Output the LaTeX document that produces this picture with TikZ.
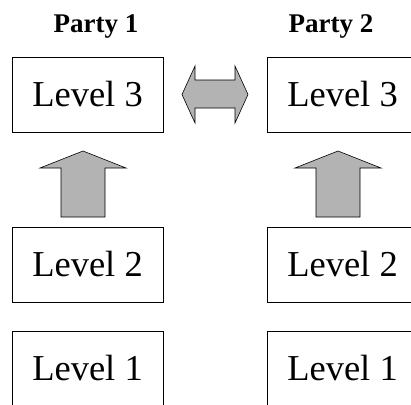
\documentclass[tikz,border=0pt]{standalone}
\usepackage{fontspec}
\setmainfont{Liberation Serif}
\definecolor{arrowgray}{RGB}{179,179,179}
\tikzset{
  level/.style={draw,line width=0.8pt,minimum width=151pt,minimum height=75pt,inner sep=0pt,font=\fontsize{36.5}{40}\selectfont},
  party/.style={anchor=base,font=\fontsize{27}{30}\selectfont\bfseries},
  fatarrow/.style={draw,line width=0.6pt,fill=arrowgray,line join=miter}
}
\begin{document}
\begin{tikzpicture}[x=1pt,y=-1pt]
\useasboundingbox (0,0) rectangle (411,404);
% party headings
\node[party] (p1) at (96,33) {Party 1};
\node[party] (p2) at (331,33) {Party 2};
% level boxes
\node[level] (a3) at (87.5,94.5) {Level 3};
\node[level] (a2) at (87.5,264.5) {Level 2};
\node[level] (a1) at (87.5,368.5) {Level 1};
\node[level] (b3) at (342.5,94.5) {Level 3};
\node[level] (b2) at (342.5,264.5) {Level 2};
\node[level] (b1) at (342.5,368.5) {Level 1};
% level 3 to level 3
\draw[fatarrow] (182,94.5) -- (195,66) -- (195,80) -- (235,80) -- (235,66) -- (248,94.5)
  -- (235,123) -- (235,108) -- (195,108) -- (195,123) -- cycle;
% level 2 up to level 3
\foreach \cx in {83,338}
  \draw[fatarrow] (\cx,151) -- (\cx+43,168) -- (\cx+22,168) -- (\cx+22,217)
    -- (\cx-22,217) -- (\cx-22,168) -- (\cx-43,168) -- cycle;
\end{tikzpicture}
\end{document}
